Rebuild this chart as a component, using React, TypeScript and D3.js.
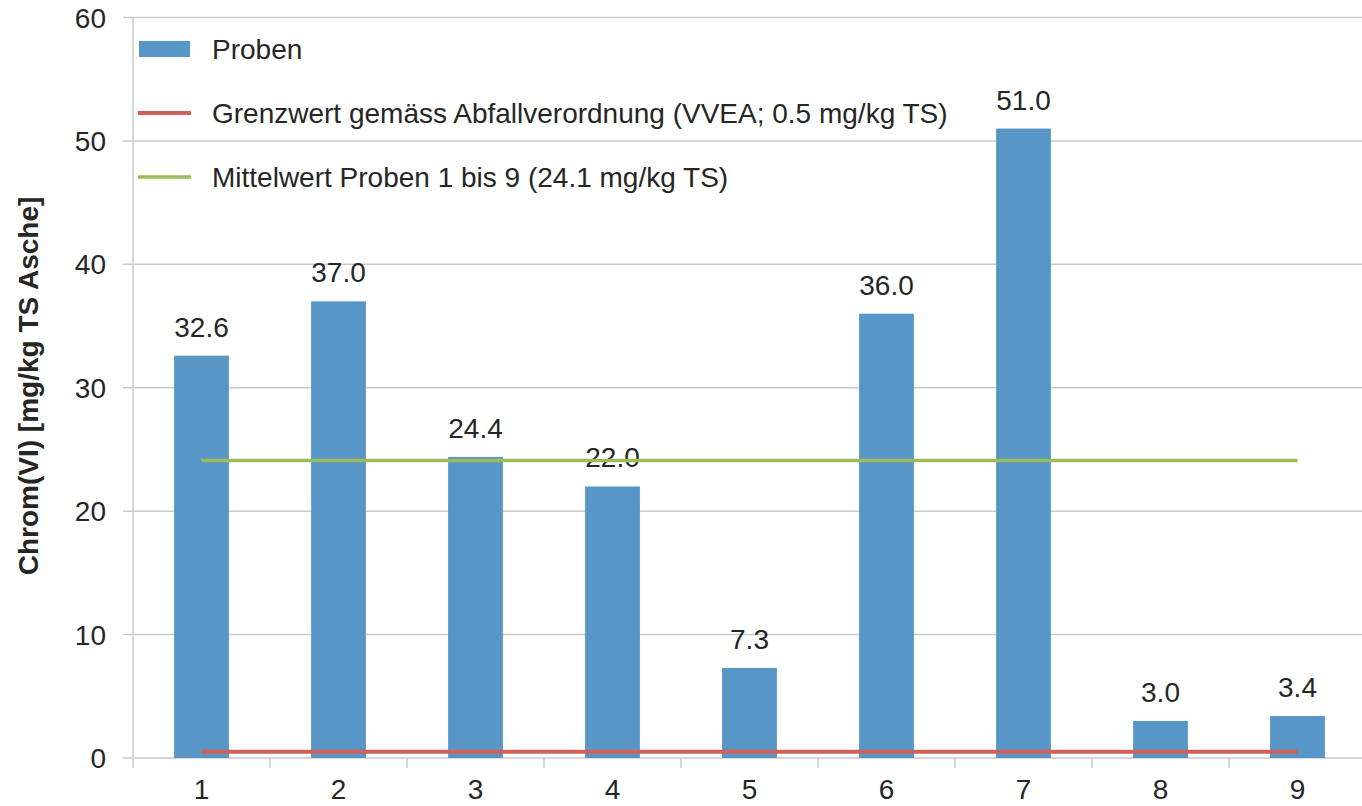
import React from "react";
import * as d3 from "d3";

const categories = ["1", "2", "3", "4", "5", "6", "7", "8", "9"];
const proben = [32.6, 37.0, 24.4, 22.0, 7.3, 36.0, 51.0, 3.0, 3.4];
const grenzwert = 0.5;
const mittelwert = 24.1;
const yTicks = [0, 10, 20, 30, 40, 50, 60];
const legendLabels = [
  "Proben",
  "Grenzwert gemäss Abfallverordnung (VVEA; 0.5 mg/kg TS)",
  "Mittelwert Proben 1 bis 9 (24.1 mg/kg TS)",
];

const W = 1362;
const H = 806;
const left = 133;
const top = 17.5;
const bottom = 758;
const band = 137;

const FONT = "'Liberation Sans', Arial, sans-serif";
const FS = 28;
const BLUE = "#5796C7";
const RED = "#CF605B";
const GREEN = "#9DBB5A";
const TEXT = "#262626";
const GRID = "#CACACA";

const App = () => {
  const x = d3
    .scaleBand<string>()
    .domain(categories)
    .range([left, left + band * categories.length])
    .paddingInner(0.6)
    .paddingOuter(0.3);
  const xc = (c: string) => (x(c) as number) + x.bandwidth() / 2;
  const y = d3.scaleLinear().domain([0, 60]).range([bottom, top]);

  const first = xc(categories[0]);
  const last = xc(categories[categories.length - 1]);

  return (
    <svg
      width={W}
      height={H}
      style={{ position: "absolute", left: 0, top: 0, background: "#fff" }}
      fontFamily={FONT}
    >
      {/* grid + y ticks */}
      {yTicks.map((t) => (
        <g key={t}>
          <line x1={left - 10} x2={W} y1={y(t)} y2={y(t)} stroke={GRID} strokeWidth={1.5} />
          <text x={left - 27} y={y(t)} dy="0.36em" textAnchor="end" fontSize={FS} fill={TEXT}>
            {t}
          </text>
        </g>
      ))}
      {/* y axis line */}
      <line x1={left} x2={left} y1={top} y2={bottom + 10} stroke={GRID} strokeWidth={1.5} />
      {/* x ticks at band boundaries */}
      {categories.map((c, i) => (
        <line
          key={c}
          x1={left + band * (i + 1)}
          x2={left + band * (i + 1)}
          y1={bottom}
          y2={bottom + 10}
          stroke={GRID}
          strokeWidth={1.5}
        />
      ))}
      {/* bars */}
      {proben.map((v, i) => (
        <g key={i}>
          <rect
            x={x(categories[i])}
            y={y(v)}
            width={x.bandwidth()}
            height={bottom - y(v)}
            fill={BLUE}
          />
          <text x={xc(categories[i])} y={y(v) - 19} textAnchor="middle" fontSize={FS} fill={TEXT}>
            {v.toFixed(1)}
          </text>
        </g>
      ))}
      {/* reference lines */}
      <line x1={first} x2={last} y1={y(grenzwert)} y2={y(grenzwert)} stroke={RED} strokeWidth={4} />
      <line x1={first} x2={last} y1={y(mittelwert)} y2={y(mittelwert)} stroke={GREEN} strokeWidth={3.5} />
      {/* x labels */}
      {categories.map((c) => (
        <text key={c} x={xc(c)} y={799} textAnchor="middle" fontSize={FS} fill={TEXT}>
          {c}
        </text>
      ))}
      {/* y title */}
      <text
        transform={`translate(38,386) rotate(-90)`}
        textAnchor="middle"
        fontSize={FS}
        fontWeight="bold"
        fill={TEXT}
      >
        Chrom(VI) [mg/kg TS Asche]
      </text>
      {/* legend */}
      <g>
        <rect x={139} y={41} width={51} height={16} fill={BLUE} />
        <line x1={138} x2={191} y1={113} y2={113} stroke={RED} strokeWidth={4} />
        <line x1={138} x2={191} y1={177} y2={177} stroke={GREEN} strokeWidth={3.5} />
        {legendLabels.map((l, i) => (
          <text key={l} x={212} y={49 + i * 64} dy="0.36em" fontSize={FS} fill={TEXT}>
            {l}
          </text>
        ))}
      </g>
    </svg>
  );
};

export default App;
